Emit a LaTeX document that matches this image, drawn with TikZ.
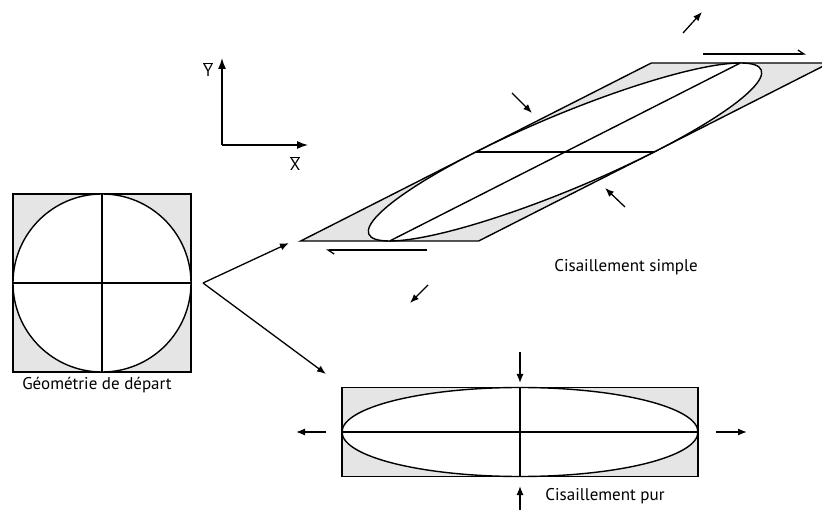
\documentclass[tikz,border=0pt]{standalone}
\usepackage{fontspec}
\setmainfont{PT Sans}
\usetikzlibrary{arrows.meta}

\definecolor{fondgris}{gray}{0.9}

\tikzset{
  contour/.style={line width=1.4pt},
  fleche/.style={line width=1.3pt, -{Latex[length=11pt,width=8pt]}},
  petitefleche/.style={line width=1.3pt, -{Latex[length=9pt,width=7pt]}},
  demifleche/.style={line width=1.3pt, -{Straight Barb[left,length=6pt,width=8pt]}},
  legende/.style={font=\fontsize{17}{19}\selectfont},
}

% carre + cercle + croix de reference
\newcommand{\marqueur}{%
  \filldraw[contour, fill=fondgris] (-89,-89) rectangle (89,89);
  \filldraw[contour, fill=white] (0,0) circle (89);
  \draw[contour] (-89,0) -- (89,0);
  \draw[contour] (0,-89) -- (0,89);
}

\begin{document}
\begin{tikzpicture}[x=1pt, y=-1pt]
    \useasboundingbox (0,0) rectangle (822,510);

    % repere
    \coordinate (O) at (222,145);
    \coordinate (Yb) at (222,58);
    \coordinate (Xb) at (308,145);
    \draw[fleche] (O) -- (Yb);
    \draw[fleche] (O) -- (Xb);
    \node[legende] (labelY) at (208,70) {$\overline{\mbox{Y}}$};
    \node[legende] (labelX) at (295,164) {$\overline{\mbox{X}}$};

    % geometrie de depart
    \coordinate (depart) at (102,283);
    \begin{scope}[shift={(depart)}]
        \marqueur
    \end{scope}
    \node[legende] (txtdepart) at (97,385) {Géométrie de départ};

    % fleches vers les deux cas
    \coordinate (fourche) at (203,283);
    \coordinate (versSimple) at (289,243);
    \coordinate (versPur) at (326,374);
    \draw[petitefleche] (fourche) -- (versSimple);
    \draw[petitefleche] (fourche) -- (versPur);

    % cisaillement simple
    \coordinate (simple) at (565,152);
    \begin{scope}[shift={(simple)}, cm={1,0,1.97,1,(0,0)}]
        \marqueur
    \end{scope}
    \draw[demifleche] (703,54) -- (806,54);
    \draw[demifleche] (427,250) -- (326,250);
    \draw[petitefleche] (512,93) -- (532,113);
    \draw[petitefleche] (625,207) -- (605,188);
    \draw[petitefleche] (683,33) -- (702,12);
    \draw[petitefleche] (428,285) -- (410,303);
    \node[legende] (txtsimple) at (626,267) {Cisaillement simple};

    % cisaillement pur
    \coordinate (pur) at (520,432);
    \begin{scope}[shift={(pur)}, xscale=2, yscale=0.5]
        \marqueur
    \end{scope}
    \draw[petitefleche] (520,352) -- (520,383);
    \draw[petitefleche] (520,510) -- (520,486);
    \draw[petitefleche] (326,432) -- (296,432);
    \draw[petitefleche] (716,432) -- (747,432);
    \node[legende] (txtpur) at (605,496) {Cisaillement pur};
\end{tikzpicture}
\end{document}
